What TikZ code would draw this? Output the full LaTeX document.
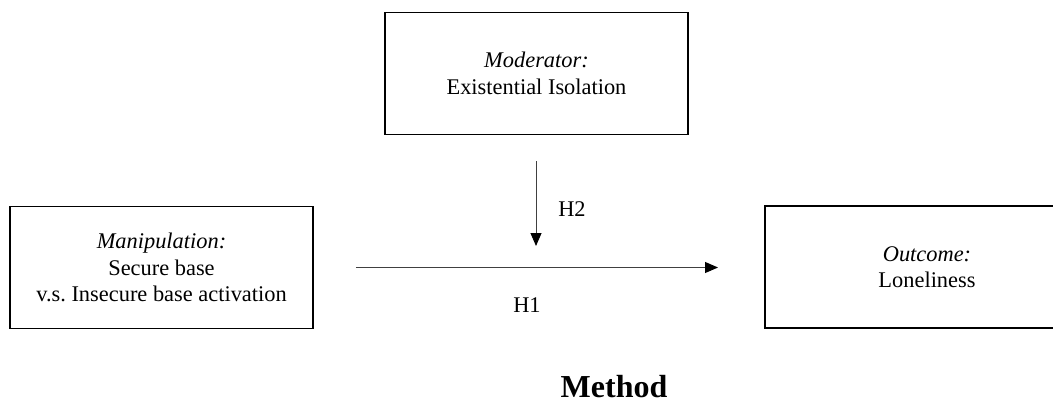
\documentclass[tikz,border=0pt]{standalone}
\usepackage{fontspec}
\setmainfont{Liberation Serif}
\usetikzlibrary{arrows.meta}
\begin{document}
\begin{tikzpicture}[x=0.5pt,y=-0.5pt,
  box/.style={draw=black,line width=0.75pt,align=center,inner sep=0pt,
    minimum width=151.5pt,minimum height=61pt,
    font=\fontsize{11.2}{13.3}\selectfont},
  arr/.style={draw=black!75,line width=0.5pt,
    -{Triangle[length=6.5pt,width=5.5pt,color=black]}},
  lbl/.style={font=\fontsize{11.2}{13.3}\selectfont,inner sep=0pt},
  ttl/.style={font=\fontsize{16}{19}\selectfont\bfseries,inner sep=0pt,anchor=base}]
\clip (0,0) rectangle (1053,401);
\node[box] (mod) at (536.5,73.5) {\textit{Moderator:}\\Existential Isolation};
\node[box] (man) at (161.5,267.5) {\textit{Manipulation:}\\Secure base\\v.s.\ Insecure base activation};
\node[box,minimum width=162pt] (out) at (927,267) {\textit{Outcome:}\\Loneliness};
\coordinate (vtip) at (536,246);
\coordinate (htip) at (718,267.5);
\coordinate (vstart) at (536,135);
\draw[arr,shorten <=21pt] (man.east) -- (htip);
\draw[arr,shorten <=13pt] (vstart) -- (vtip);
\node[lbl] (h2) at (572,209) {H2};
\node[lbl] (h1) at (527,305) {H1};
\node[ttl] (method) at (614,397) {Method};
\end{tikzpicture}
\end{document}
